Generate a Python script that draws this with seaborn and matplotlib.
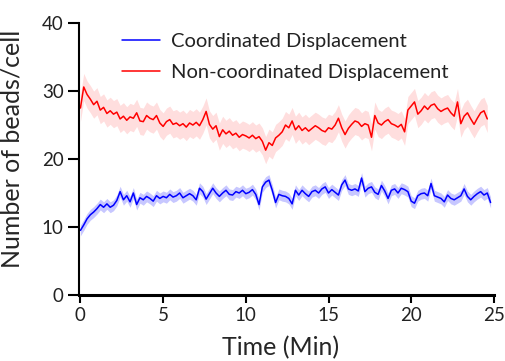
import numpy as np
import pandas as pd
import matplotlib
matplotlib.use("Agg")
import matplotlib.pyplot as plt
import seaborn as sns

# time in minutes, one reading every 0.2 min
time_min = np.round(np.arange(0, 24.81, 0.2), 1)

coordinated = [
    9.5, 10.3, 11.2, 11.8, 12.2, 12.7, 13.3, 12.9, 13.4, 12.9,
    13.2, 13.9, 15.2, 14.0, 14.6, 13.7, 15.0, 13.3, 14.3, 14.0,
    14.5, 14.2, 13.8, 14.6, 14.2, 14.5, 14.3, 14.8, 14.4, 14.6,
    15.0, 14.3, 14.6, 14.9, 14.6, 14.0, 15.7, 15.2, 14.1, 14.9,
    15.7, 15.0, 14.5, 15.0, 15.4, 14.8, 14.7, 15.2, 15.0, 15.4,
    14.9, 15.1, 15.5, 14.8, 13.3, 15.9, 16.6, 16.9, 15.4, 13.6,
    14.8, 14.6, 14.5, 14.2, 13.4, 15.4, 14.7, 15.4, 14.9, 14.5,
    15.2, 15.4, 15.0, 15.6, 15.9, 15.0, 15.5, 15.1, 14.7, 16.2,
    16.9, 15.6, 15.4, 15.6, 15.3, 17.2, 15.2, 15.7, 15.9, 15.1,
    14.8, 16.1, 15.3, 14.2, 15.4, 15.6, 15.0, 15.7, 15.5, 15.2,
    13.8, 13.5, 14.6, 14.9, 15.0, 14.6, 16.4, 14.6, 14.4, 14.2,
    13.7, 14.7, 14.2, 14.0, 14.3, 14.6, 15.6, 14.5, 14.0, 14.5,
    14.9, 15.2, 14.7, 15.0, 13.6,
]

non_coordinated = [
    27.5, 30.6, 29.5, 28.8, 28.0, 28.5, 27.2, 27.6, 26.7, 27.1,
    26.6, 26.9, 25.9, 26.3, 25.7, 26.2, 26.0, 26.8, 25.6, 25.5,
    26.4, 26.0, 25.8, 26.4, 25.3, 24.8, 25.5, 25.8, 25.1, 25.3,
    24.9, 25.2, 24.7, 25.3, 25.0, 25.4, 24.9, 25.8, 27.0, 25.1,
    24.4, 24.9, 23.3, 24.3, 23.7, 24.1, 23.5, 23.8, 23.2, 23.6,
    23.4, 23.1, 23.5, 23.0, 23.3, 22.6, 21.3, 22.4, 22.0, 23.1,
    23.5, 24.0, 25.0, 24.6, 25.6, 24.3, 24.9, 24.2, 24.6, 24.1,
    24.5, 24.9, 24.6, 24.2, 24.0, 24.6, 24.4, 25.0, 26.0, 24.6,
    23.6, 24.5, 25.1, 25.6, 25.4, 24.8, 25.2, 25.0, 23.2, 26.4,
    25.3, 25.0, 25.5, 25.8, 25.2, 25.0, 24.7, 25.1, 24.0, 27.2,
    27.8, 28.4, 26.6, 27.1, 27.8, 27.3, 27.9, 28.1, 27.4, 27.0,
    27.3, 27.5, 26.8, 26.3, 28.4, 25.2, 26.3, 26.8, 25.9, 25.1,
    26.0, 26.8, 27.1, 25.9,
]

# spread of the shaded bands
coordinated_sem = 0.8
non_coordinated_sem = 2.0

df_c = pd.DataFrame({"t": time_min[:len(coordinated)], "n": coordinated})
df_n = pd.DataFrame({"t": time_min[:len(non_coordinated)], "n": non_coordinated})

sns.set_style("ticks")
plt.rcParams["font.family"] = ["Lato", "DejaVu Sans"]

fig = plt.figure(figsize=(5.05, 3.61), dpi=100)
ax = fig.add_axes([0.156, 0.183, 0.822, 0.753])

ax.fill_between(df_c["t"], df_c["n"] - coordinated_sem, df_c["n"] + coordinated_sem,
                color="#0000ff", alpha=0.22, linewidth=0)
ax.fill_between(df_n["t"], df_n["n"] - non_coordinated_sem, df_n["n"] + non_coordinated_sem,
                color="#ff0000", alpha=0.13, linewidth=0)
sns.lineplot(data=df_c, x="t", y="n", color="#0000ff", linewidth=1.1, ax=ax,
             label="Coordinated Displacement")
sns.lineplot(data=df_n, x="t", y="n", color="#ff0000", linewidth=1.1, ax=ax,
             label="Non-coordinated Displacement")

ax.set_xlim(-0.1, 25)
ax.set_ylim(0, 40)
ax.set_xticks([0, 5, 10, 15, 20, 25])
ax.set_yticks([0, 10, 20, 30, 40])
ax.set_xlabel("Time (Min)", fontsize=18, labelpad=8)
ax.set_ylabel("Number of beads/cell", fontsize=18)
ax.xaxis.label.set_x(0.487)
ax.yaxis.set_label_coords(-0.132, 0.537)
ax.tick_params(axis="both", labelsize=13.5, width=1.5, color="black", labelcolor="#222222")
ax.tick_params(axis="y", length=8, pad=3)
ax.tick_params(axis="x", length=6, pad=3)
for side in ["top", "right"]:
    ax.spines[side].set_visible(False)
ax.spines["left"].set_linewidth(1.5)
ax.spines["bottom"].set_linewidth(2.2)
ax.spines["left"].set_color("black")
ax.spines["bottom"].set_color("black")

leg = ax.legend(loc="upper left", bbox_to_anchor=(0.06, 1.03), frameon=False,
                fontsize=14.5, handlelength=1.9, labelspacing=0.7, handletextpad=0.55)
for txt in leg.get_texts():
    txt.set_color("#222222")

fig.savefig("out.png", dpi=100)
